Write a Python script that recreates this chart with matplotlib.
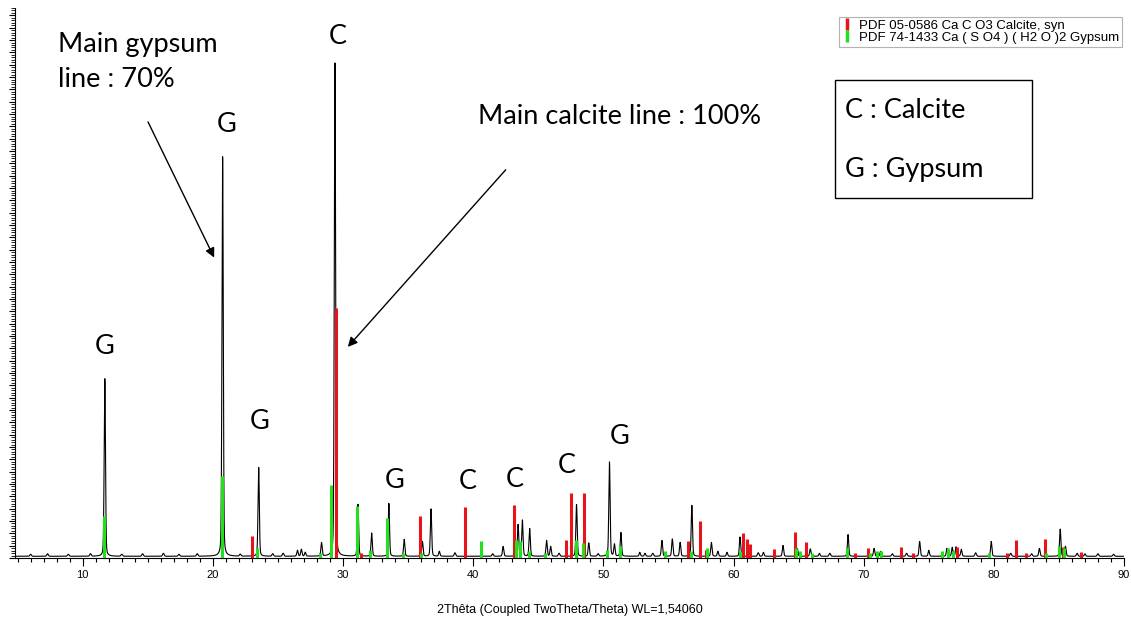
import numpy as np
import matplotlib.pyplot as plt
from matplotlib.lines import Line2D
from matplotlib.patches import Rectangle
from matplotlib.ticker import MultipleLocator

# measured pattern: peak positions (2theta) and heights (% of main peak)
peak_pos = [11.7, 20.75, 23.52, 26.5, 26.8, 27.1, 28.35, 29.38, 31.15, 32.2,
            33.52, 34.7, 36.1, 36.76, 37.4, 42.3, 43.45, 43.78, 44.34, 45.64,
            45.95, 47.94, 48.88, 50.47, 50.85, 51.35, 52.8, 53.2, 54.5, 55.3,
            55.9, 56.8, 58.3, 58.8, 59.5, 60.5, 62.3, 63.8, 64.9, 65.9,
            66.6, 68.8, 70.8, 71.3, 74.3, 75.0, 76.4, 76.8, 77.1, 77.5,
            79.8, 83.5, 85.1, 85.5, 87.0]
peak_int = [36, 81, 18, 1.2, 1.4, 0.8, 2.7, 100, 10.5, 4.7,
            10.7, 3.4, 3.0, 9.6, 1.0, 2.0, 6.4, 7.3, 5.6, 3.2,
            2.0, 10.5, 2.7, 19.1, 2.4, 4.8, 0.8, 0.6, 3.2, 3.5,
            2.8, 10.3, 2.8, 1.0, 0.8, 3.9, 0.8, 2.2, 1.6, 1.5,
            0.6, 4.4, 1.6, 1.0, 3.0, 1.2, 1.6, 1.8, 1.9, 1.4,
            3.0, 1.6, 5.5, 2.0, 0.5]

# small background bumps along the baseline
bump_pos = [6.0, 7.3, 8.9, 10.6, 13.0, 14.6, 16.2, 17.4, 18.8, 22.1,
            24.6, 25.4, 38.6, 41.5, 46.6, 49.6, 53.8, 61.9, 67.4, 72.2,
            73.3, 78.6, 81.3, 82.9, 86.4, 88.0, 89.2]
bump_int = [0.4, 0.5, 0.4, 0.5, 0.4, 0.5, 0.6, 0.4, 0.5, 0.4,
            0.5, 0.6, 0.7, 0.5, 0.6, 0.5, 0.6, 0.7, 0.6, 0.5,
            0.6, 0.7, 0.6, 0.5, 0.6, 0.5, 0.4]

# reference sticks
calcite_pos = [23.0, 29.45, 31.4, 35.95, 39.4, 43.15, 47.1, 47.48, 48.5, 56.5,
               57.4, 57.9, 60.7, 61.0, 61.3, 63.1, 64.7, 65.6, 69.3, 70.3,
               72.9, 73.8, 77.2, 81.0, 81.7, 82.5, 83.9, 85.3, 86.7]
calcite_int = [4.5, 50.7, 1.0, 8.5, 10.4, 10.8, 3.7, 13.2, 13.2, 3.5,
               7.6, 1.7, 5.0, 3.9, 2.8, 1.8, 5.2, 3.2, 1.0, 2.0,
               2.2, 1.0, 2.3, 1.1, 3.7, 1.0, 3.9, 2.2, 1.3]
gypsum_pos = [11.6, 20.7, 23.4, 28.2, 29.1, 31.1, 32.1, 33.4, 34.6, 36.0,
              40.6, 43.3, 43.6, 44.3, 45.5, 47.9, 48.4, 50.3, 51.3, 54.7,
              56.7, 58.0, 60.5, 64.8, 65.1, 66.0, 68.7, 70.5, 71.0, 71.3,
              76.0, 76.5, 76.9, 79.6, 84.0, 85.0, 85.4]
gypsum_int = [8.5, 16.6, 2.0, 1.0, 14.7, 10.5, 1.7, 8.1, 1.0, 1.0,
              3.4, 3.7, 3.5, 1.5, 1.0, 3.7, 3.0, 1.7, 2.4, 1.5,
              1.5, 2.0, 1.5, 2.0, 1.5, 1.0, 2.0, 1.0, 1.5, 1.5,
              1.5, 2.0, 1.5, 1.0, 1.0, 2.5, 2.0]

legend_labels = ['PDF 05-0586 Ca C O3 Calcite, syn',
                 'PDF 74-1433 Ca ( S O4 ) ( H2 O )2 Gypsum']

tt = np.arange(4.8, 90.0, 0.005)
counts = np.full_like(tt, 0.35)
for p, h in zip(peak_pos, peak_int):
    counts += h * (0.75 * np.exp(-0.5 * ((tt - p) / 0.05) ** 2)
                   + 0.25 / (1 + ((tt - p) / 0.06) ** 2))
for p, h in zip(bump_pos, bump_int):
    counts += h * np.exp(-0.5 * ((tt - p) / 0.06) ** 2)

fig = plt.figure(figsize=(11.31, 6.26), dpi=100)
ax = fig.add_axes([15 / 1131, 68 / 626, 1109 / 1131, 550 / 626])

ax.plot(tt, counts, color='black', lw=0.8, zorder=2)
ax.vlines(calcite_pos, 0, calcite_int, color='#e8141c', lw=2.2, zorder=3)
ax.vlines(gypsum_pos, 0, gypsum_int, color='#22e01c', lw=2.2, zorder=3)

ax.set_xlim(4.8, 90)
ax.set_ylim(0, 111.5)
ax.spines['top'].set_visible(False)
ax.spines['right'].set_visible(False)
ax.xaxis.set_major_locator(MultipleLocator(10))
ax.xaxis.set_minor_locator(MultipleLocator(1))
ax.yaxis.set_major_locator(MultipleLocator(2.5))
ax.yaxis.set_minor_locator(MultipleLocator(0.5))
ax.set_yticklabels([])
ax.tick_params(axis='x', which='major', length=6, width=0.8, labelsize=8, pad=3)
ax.tick_params(axis='x', which='minor', length=3, width=0.8)
ax.tick_params(axis='y', which='major', length=4, width=0.8)
ax.tick_params(axis='y', which='minor', length=3, width=0.6)
for lab in ax.get_xticklabels():
    lab.set_family('Liberation Sans')
ax.set_xlabel('2Thêta (Coupled TwoTheta/Theta) WL=1,54060', family='Liberation Sans',
              fontsize=9, labelpad=17)

handles = [Line2D([], [], color='#e8141c', marker='|', ls='none', markersize=9, markeredgewidth=2.5),
           Line2D([], [], color='#22e01c', marker='|', ls='none', markersize=9, markeredgewidth=2.5)]
leg = ax.legend(handles, legend_labels, loc='upper right', bbox_to_anchor=(0.998, 0.984),
                borderaxespad=0, fancybox=False, edgecolor='#a0a0a0', handlelength=0.8,
                handletextpad=0.5, borderpad=0.2, labelspacing=0.0,
                prop={'family': 'Liberation Sans', 'size': 9.5})
leg.get_frame().set_linewidth(0.8)

tf = dict(family='Lato', fontsize=19.5, color='black')
for x, y, s in [(11.71, 42.8, 'G'), (21.08, 87.8, 'G'), (29.6, 105.7, 'C'), (23.62, 27.6, 'G'),
                (33.99, 15.8, 'G'), (39.6, 15.6, 'C'), (43.2, 16.0, 'C'), (47.2, 18.7, 'C'),
                (51.27, 24.7, 'G')]:
    ax.text(x, y, s, ha='center', va='center', **tf)

ax.text(8.08, 104.1, 'Main gypsum', ha='left', va='center', **tf)
ax.text(8.08, 97.0, 'line : 70%', ha='left', va='center', **tf)
ax.text(40.37, 89.5, 'Main calcite line : 100%', ha='left', va='center', **tf)

arrow = dict(arrowstyle='-|>', color='black', lw=1, mutation_scale=14, shrinkA=0, shrinkB=0)
ax.annotate('', xy=(20.1, 60.9), xytext=(15.02, 88.4), arrowprops=arrow)
ax.annotate('', xy=(30.37, 42.8), xytext=(42.5, 78.7), arrowprops=arrow)

ax.add_patch(Rectangle((67.77, 73.0), 15.2, 24.0, fill=False, ec='black', lw=1, zorder=4))
ax.text(68.55, 90.7, 'C : Calcite', ha='left', va='center', **tf)
ax.text(68.55, 78.7, 'G : Gypsum', ha='left', va='center', **tf)

fig.savefig('out.png', dpi=100)
